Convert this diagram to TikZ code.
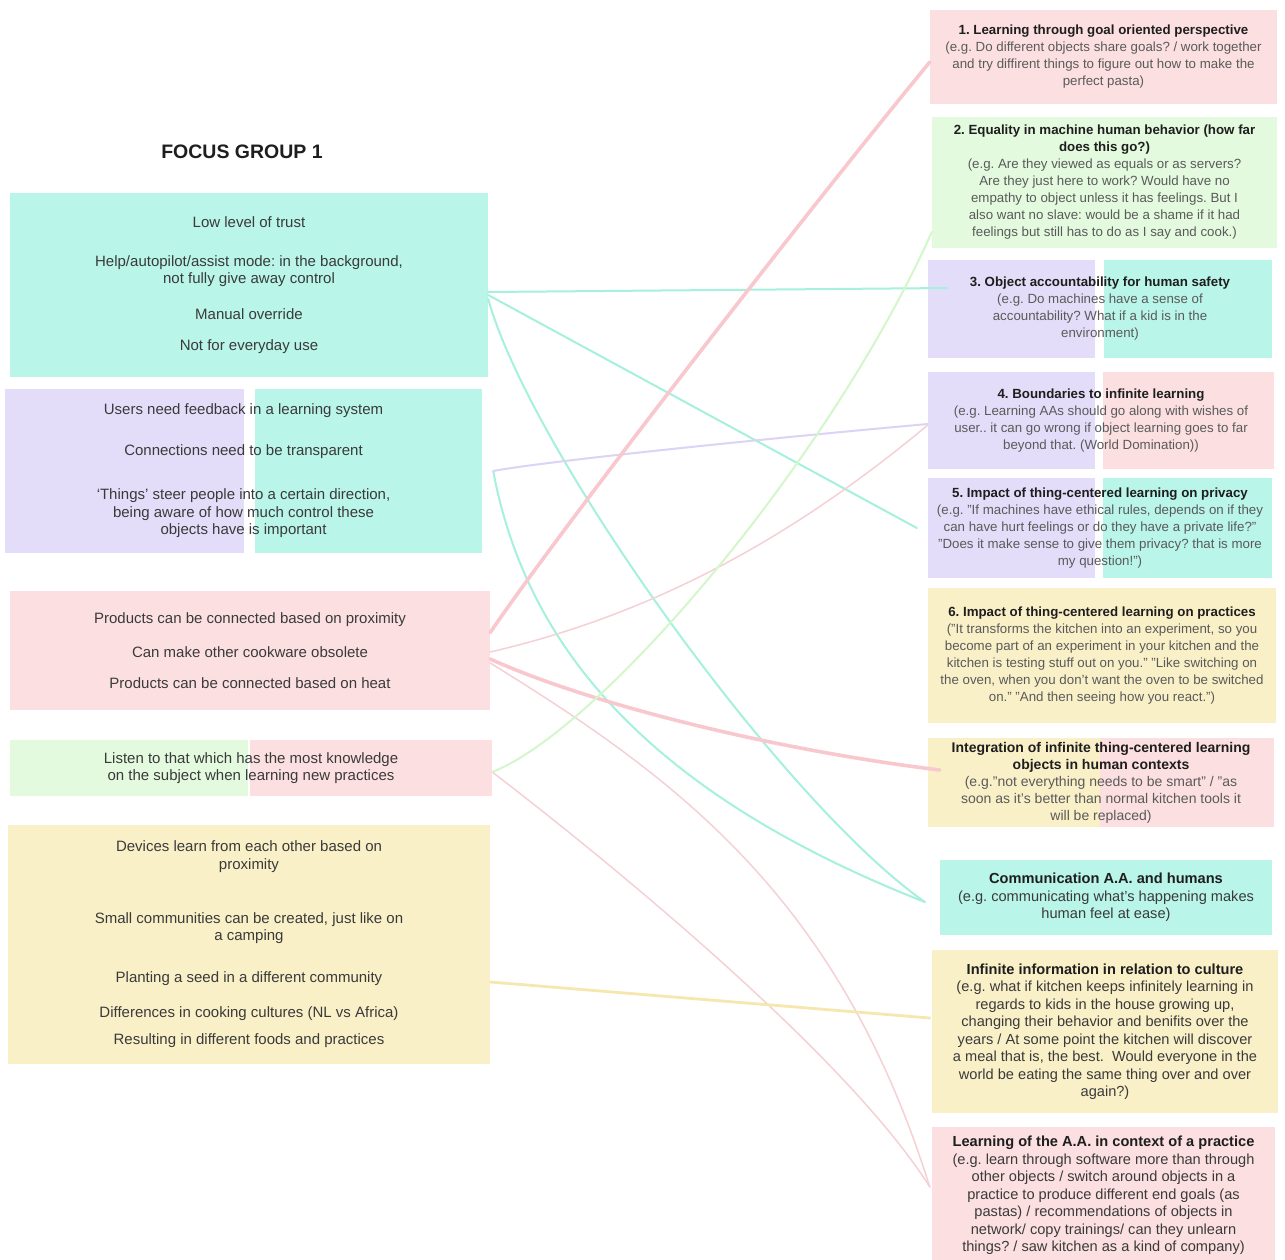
\documentclass[tikz,border=0pt]{standalone}
\usepackage{fontspec}
\setmainfont{Liberation Sans}
\usepackage{xcolor}
\definecolor{tealbg}{HTML}{B9F5E9}
\definecolor{purplebg}{HTML}{E4DDF9}
\definecolor{pinkbg}{HTML}{FCE0E1}
\definecolor{greenbg}{HTML}{E3FADF}
\definecolor{yellowbg}{HTML}{FAF0C8}
\definecolor{tealline}{HTML}{A6F0DE}
\definecolor{pinkline}{HTML}{F8C8CE}
\definecolor{pinkthin}{HTML}{F5D0D5}
\definecolor{greenline}{HTML}{D3F7CB}
\definecolor{yellowline}{HTML}{F6E7AE}
\definecolor{purpleline}{HTML}{DCD3F6}
\definecolor{notetext}{HTML}{3A3A3A}
\definecolor{themetext}{HTML}{5A5A5A}
\definecolor{titletext}{HTML}{1E1E1E}
\usepackage{tikz}
\usetikzlibrary{calc}
\frenchspacing

\newcommand\ttl[1]{{\bfseries\color{titletext}#1}}

\begin{document}
\begin{tikzpicture}[
  x=1pt, y=-1pt,
  note/.style={rectangle, inner sep=0pt, align=center, text=notetext, font=\fontsize{15}{17.5}\selectfont},
  theme/.style={rectangle, inner sep=0pt, align=center, text=themetext, font=\fontsize{13.3}{17}\selectfont},
  bigtheme/.style={theme, text=notetext, font=\fontsize{14.6}{17.5}\selectfont},
  boxsize/.style 2 args={minimum width=#1pt, minimum height=#2pt},
  twotone/.style n args={4}{path picture={
      \fill[#1] (path picture bounding box.south west) rectangle ([xshift=#3pt]path picture bounding box.north);
      \fill[#2] ([xshift=#4pt]path picture bounding box.south) rectangle (path picture bounding box.north east);}},
  tlink/.style={draw=tealline, line width=2pt, line cap=round},
  plink/.style={draw=pinkline, line width=3.6pt, line cap=round},
  pthin/.style={draw=pinkthin, line width=1.5pt, line cap=round},
  glink/.style={draw=greenline, line width=2pt, line cap=round},
  ylink/.style={draw=yellowline, line width=2.8pt, line cap=round},
  vlink/.style={draw=purpleline, line width=2pt, line cap=round},
]
\useasboundingbox (0,0) rectangle (1285,1259);
\fill[white] (0,0) rectangle (1285,1259);

% Title
\node[font=\fontsize{19.5}{22}\selectfont\bfseries, text=titletext] (fgtitle) at (242,152) {FOCUS GROUP 1};

% Notes (left)
\node[note, boxsize={478}{184}, fill=tealbg] (trust) at (249,285) {Low level of trust\\[21.5pt]
  Help/autopilot/assist mode: in the background,\\ not fully give away control\\[18.5pt]
  Manual override\\[13.5pt] Not for everyday use};
\node[note, boxsize={477}{164}, twotone={purplebg}{tealbg}{0}{11.5}] (feedback) at (243.5,471) {Users need feedback in a learning system\\[23.5pt]
  Connections need to be transparent\\[26.5pt]
  `Things' steer people into a certain direction,\\ being aware of how much control these\\ objects have is important};
\node[note, boxsize={480}{119}, fill=pinkbg] (products) at (250,650.5) {Products can be connected based on proximity\\[16.5pt]
  Can make other cookware obsolete\\[13.5pt] Products can be connected based on heat};
\node[note, boxsize={482}{56}, twotone={greenbg}{pinkbg}{-3}{-1}] (listen) at (251,768) {Listen to that which has the most knowledge\\ on the subject when learning new practices};
\node[note, boxsize={482}{239}, fill=yellowbg] (devices) at (249,944.5) {Devices learn from each other based on\\ proximity\\[36.5pt]
  Small communities can be created, just like on\\ a camping\\[24.5pt]
  Planting a seed in a different community\\[17.5pt]
  Differences in cooking cultures (NL vs Africa)\\[9.5pt]
  Resulting in different foods and practices};

% Themes (right)
\node[theme, boxsize={347}{94}, fill=pinkbg] (goals) at (1103.5,57) {\ttl{1. Learning through goal oriented perspective}\\
  (e.g. Do different objects share goals? / work together\\ and try diffirent things to figure out how to make the\\ perfect pasta)};
\node[theme, boxsize={345}{131}, fill=greenbg] (equality) at (1104.5,182.5) {\ttl{2. Equality in machine human behavior (how far}\\ \ttl{does this go?)}\\
  (e.g. Are they viewed as equals or as servers?\\ Are they just here to work? Would have no\\ empathy to object unless it has feelings. But I\\ also want no slave: would be a shame if it had\\ feelings but still has to do as I say and cook.)};
\node[theme, boxsize={344}{98}, twotone={purplebg}{tealbg}{-5}{4}] (safety) at (1100,309) {\ttl{3. Object accountability for human safety}\\
  (e.g. Do machines have a sense of\\ accountability? What if a kid is in the\\ environment)};
\node[theme, boxsize={346}{97}, twotone={purplebg}{pinkbg}{-6}{2}] (boundaries) at (1101,420.5) {\ttl{4. Boundaries to infinite learning}\\
  (e.g. Learning AAs should go along with wishes of\\ user.. it can go wrong if object learning goes to far\\ beyond that. (World Domination))};
\node[theme, boxsize={344}{100}, twotone={purplebg}{tealbg}{-5}{3}] (privacy) at (1100,528) {\ttl{5. Impact of thing-centered learning on privacy}\\
  (e.g. "If machines have ethical rules, depends on if they\\ can have hurt feelings or do they have a private life?"\\ "Does it make sense to give them privacy? that is more\\ my question!")};
\node[theme, boxsize={348}{135}, fill=yellowbg] (practices) at (1102,655.5) {\ttl{6. Impact of thing-centered learning on practices}\\
  ("It transforms the kitchen into an experiment, so you\\ become part of an experiment in your kitchen and the\\ kitchen is testing stuff out on you." "Like switching on\\ the oven, when you don't want the oven to be switched\\ on." "And then seeing how you react.")};
\node[theme, font=\fontsize{14}{17}\selectfont, boxsize={346}{89}, twotone={yellowbg}{pinkbg}{9}{-1}] (integration) at (1101,782.5) {\ttl{Integration of infinite thing-centered learning}\\ \ttl{objects in human contexts}\\
  (e.g."not everything needs to be smart" / "as\\ soon as it's better than normal kitchen tools it\\ will be replaced)};
\node[bigtheme, boxsize={332}{75}, fill=tealbg] (communication) at (1106,897.5) {\ttl{Communication A.A. and humans}\\
  (e.g. communicating what's happening makes\\ human feel at ease)};
\node[bigtheme, boxsize={346}{163}, fill=yellowbg] (culture) at (1105,1031.5) {\ttl{Infinite information in relation to culture}\\
  (e.g. what if kitchen keeps infinitely learning in\\ regards to kids in the house growing up,\\ changing their behavior and benifits over the\\ years / At some point the kitchen will discover\\ a meal that is, the best.\ \ Would everyone in the\\ world be eating the same thing over and over\\ again?)};
\node[bigtheme, boxsize={343}{137}, fill=pinkbg] (context) at (1103.5,1195.5) {\ttl{Learning of the A.A. in context of a practice}\\
  (e.g. learn through software more than through\\ other objects / switch around objects in a\\ practice to produce different end goals (as\\ pastas) / recommendations of objects in\\ network/ copy trainings/ can they unlearn\\ things? / saw kitchen as a kind of company)};

% Links from notes to themes
\draw[tlink] ([yshift=-7pt]trust.east) -- ([shift={(20pt,21pt)}]safety.west);
\draw[tlink] ([yshift=-10pt]trust.east) -- ([xshift=-11pt]privacy.west);
\draw[tlink] ([yshift=-14pt]trust.east) .. controls (530,450) and (780,800) .. ([shift={(-15pt,-4.5pt)}]communication.west);
\draw[tlink] ([xshift=11pt]feedback.east) .. controls (525,640) and (640,790) .. ([shift={(-15pt,-4.5pt)}]communication.west);
\draw[vlink] ([xshift=11pt]feedback.east) .. controls (540,462) and (750,440) .. ([yshift=-3.5pt]boundaries.west);
\draw[plink] ([yshift=18pt]products.east) .. controls (560,530) and (800,220) .. ([yshift=-5pt]goals.west);
\draw[pthin] ([yshift=-1.5pt]products.east) .. controls (650,615) and (790,540) .. ([yshift=-4.5pt]boundaries.west);
\draw[plink] ([yshift=-8.5pt]products.east) .. controls (580,700) and (760,748) .. ([shift={(12pt,12.5pt)}]integration.west);
\draw[pthin] ([yshift=-12.5pt]products.east) .. controls (680,780) and (840,900) .. ([shift={(-2pt,8.5pt)}]context.west);
\draw[pthin] ([yshift=-4pt]listen.east) .. controls (620,870) and (850,1060) .. ([shift={(-2pt,8.5pt)}]context.west);
\draw[glink] ([yshift=-4pt]listen.east) .. controls (600,730) and (830,460) .. ([yshift=-49.5pt]equality.west);
\draw[ylink] ([yshift=-37.5pt]devices.east) -- ([shift={(-2pt,13.5pt)}]culture.west);

\end{tikzpicture}
\end{document}
